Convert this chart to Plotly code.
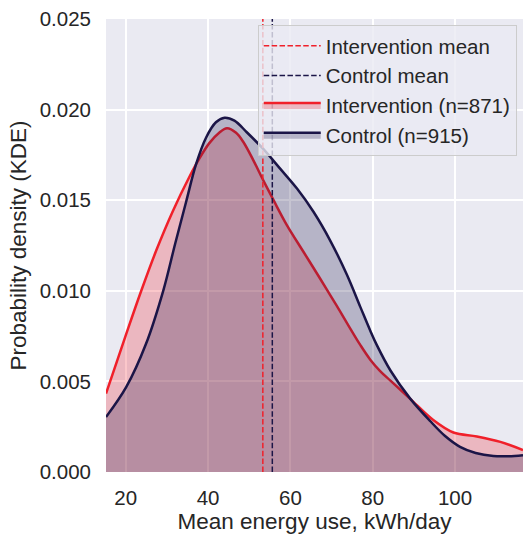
import plotly.graph_objects as go

# Intervention KDE
int_x = [15.2, 20.1, 23.7, 27.4, 31.4, 35.5, 37.9, 40.3, 42.7, 44.6, 46.8, 48.6, 51.0, 53.4, 55.9,
         59.1, 63.2, 67.2, 69.7, 72.1, 74.5, 77.0, 79.4, 81.8, 84.3, 89.1, 94.7, 99.6, 105.3, 111.0, 116.5]
int_y = [0.00433, 0.00761, 0.00996, 0.01222, 0.01438, 0.01631, 0.01731, 0.01815, 0.01872, 0.01897, 0.01872,
         0.0182, 0.0172, 0.0161, 0.0150, 0.01364, 0.01214, 0.01068, 0.00975, 0.00885, 0.00793, 0.00700,
         0.00620, 0.00557, 0.00504, 0.00404, 0.00287, 0.00218, 0.00196, 0.00166, 0.00121]

# Control KDE
ctl_x = [15.2, 20.1, 24.9, 29.1, 32.0, 34.65, 37.1, 39.5, 41.9, 44.0, 46.4, 49.4, 53.4, 57.5, 61.6,
         65.6, 69.6, 73.7, 77.0, 79.4, 81.0, 84.3, 89.1, 94.0, 97.5, 101.2, 105.0, 109.3, 113.0, 116.5]
ctl_y = [0.00303, 0.00468, 0.00706, 0.0100, 0.0126, 0.0149, 0.0170, 0.01845, 0.0193, 0.01955, 0.01939,
         0.01875, 0.01783, 0.01674, 0.01564, 0.01436, 0.0128, 0.0109, 0.0091, 0.0078, 0.0070, 0.0056,
         0.00405, 0.0028, 0.0020, 0.00139, 0.00105, 0.00088, 0.00087, 0.00093]

int_mean = 53.3
ctl_mean = 55.6
y_top = 0.025

legend_names = ["Intervention mean", "Control mean", "Intervention (n=871)", "Control (n=915)"]
x_ticks = [20, 40, 60, 80, 100]
y_ticks = [0.0, 0.005, 0.010, 0.015, 0.020, 0.025]

RED = "#F0202A"
NAVY = "#1B1547"
FONT = "Liberation Sans, Arial, sans-serif"
TXT = "#262626"

fig = go.Figure()

fig.add_trace(go.Scatter(x=int_x, y=int_y, mode="lines", line=dict(color=RED, width=2.5, shape="spline", smoothing=1.0),
                         fill="tozeroy", fillcolor="rgba(240,32,42,0.25)", name=legend_names[2], legendrank=3))
fig.add_trace(go.Scatter(x=ctl_x, y=ctl_y, mode="lines", line=dict(color=NAVY, width=2.5, shape="spline", smoothing=1.0),
                         fill="tozeroy", fillcolor="rgba(27,21,71,0.25)", name=legend_names[3], legendrank=4))
fig.add_trace(go.Scatter(x=[int_mean, int_mean], y=[0, y_top], mode="lines",
                         line=dict(color=RED, width=1.5, dash="5.5px,2.4px"), name=legend_names[0], legendrank=1))
fig.add_trace(go.Scatter(x=[ctl_mean, ctl_mean], y=[0, y_top], mode="lines",
                         line=dict(color=NAVY, width=1.5, dash="5.5px,2.4px"), name=legend_names[1], legendrank=2))

fig.update_layout(
    width=523, height=535,
    margin=dict(l=106, r=0, t=19, b=63),
    paper_bgcolor="white", plot_bgcolor="#EAEAF2",
    font=dict(family=FONT, color=TXT, size=20.5),
    showlegend=True,
    legend=dict(x=0.985, y=0.9868, xanchor="right", yanchor="top",
                bgcolor="rgba(234,234,242,0.8)", bordercolor="#CCCCCC", borderwidth=1,
                font=dict(family=FONT, size=20.5, color=TXT), tracegroupgap=0, itemwidth=57,
                traceorder="normal"),
)
fig.update_xaxes(range=[15.2, 116.5], tickvals=x_ticks, showgrid=True, gridcolor="white", gridwidth=1.5,
                 zeroline=False, showline=False, ticks="", ticklabelstandoff=11,
                 tickfont=dict(size=20.5, family=FONT, color=TXT),
                 title=dict(text="Mean energy use, kWh/day", font=dict(size=22.5, family=FONT, color=TXT), standoff=4))
fig.update_yaxes(range=[0, y_top], tickvals=y_ticks, tickformat=".3f", showgrid=True, gridcolor="white", gridwidth=1.5,
                 zeroline=False, showline=False, ticks="", ticklabelstandoff=14,
                 tickfont=dict(size=20.5, family=FONT, color=TXT),
                 title=dict(text="Probability density (KDE)", font=dict(size=22.5, family=FONT, color=TXT), standoff=6))

fig.write_html("out.html")
